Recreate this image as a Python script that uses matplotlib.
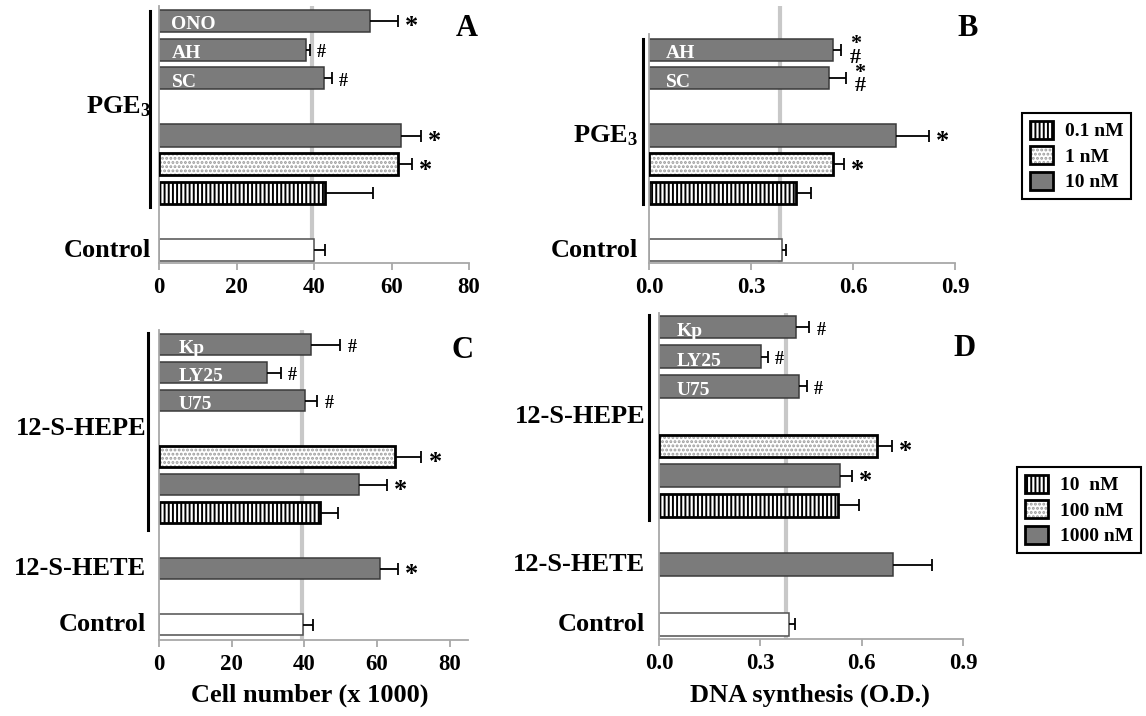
import matplotlib
matplotlib.use("Agg")
import matplotlib.pyplot as plt
from matplotlib.patches import Patch
from matplotlib.legend_handler import HandlerTuple
from matplotlib.transforms import ScaledTranslation

plt.rcParams['font.family'] = 'Liberation Serif'
plt.rcParams['font.weight'] = 'bold'
plt.rcParams['mathtext.fontset'] = 'custom'
plt.rcParams['mathtext.rm'] = 'Liberation Serif:bold'
plt.rcParams['mathtext.it'] = 'Liberation Serif:bold'
plt.rcParams['mathtext.bf'] = 'Liberation Serif:bold'
plt.rcParams['mathtext.default'] = 'rm'
plt.rcParams['hatch.linewidth'] = 1.4

# ---- data (slot = row position from top) ----
a_pos = [0, 1, 2, 4, 5, 6, 8]
a_vals = [54.5, 37.9, 42.6, 62.5, 61.7, 42.9, 40.0]
a_err = [7.2, 1.1, 2.0, 5.1, 3.5, 12.2, 2.9]
a_kind = ['grey', 'grey', 'grey', 'grey', 'dot', 'stripe', 'white']
a_inner = ['ONO', 'AH', 'SC', '', '', '', '']
a_mark = ['*', '#', '#', '*', '*', '', '']

b_pos = [1, 2, 4, 5, 6, 8]
b_vals = [0.541, 0.529, 0.726, 0.541, 0.431, 0.392]
b_err = [0.025, 0.051, 0.097, 0.033, 0.045, 0.012]
b_kind = ['grey', 'grey', 'grey', 'dot', 'stripe', 'white']
b_inner = ['AH', 'SC', '', '', '', '']
b_mark = ['*#', '*#', '*', '*', '', '']

c_pos = [0, 1, 2, 4, 5, 6, 8, 10]
c_vals = [41.9, 29.6, 40.1, 64.8, 54.9, 44.4, 60.9, 39.6]
c_err = [8.0, 3.9, 3.5, 7.4, 7.9, 4.9, 4.9, 2.8]
c_kind = ['grey', 'grey', 'grey', 'dot', 'grey', 'stripe', 'grey', 'white']
c_inner = ['Kp', 'LY25', 'U75', '', '', '', '', '']
c_mark = ['#', '#', '#', '*', '*', '', '*', '']

d_pos = [0, 1, 2, 4, 5, 6, 8, 10]
d_vals = [0.405, 0.302, 0.415, 0.644, 0.537, 0.530, 0.693, 0.386]
d_err = [0.040, 0.021, 0.022, 0.046, 0.035, 0.062, 0.115, 0.016]
d_kind = ['grey', 'grey', 'grey', 'dot', 'grey', 'stripe', 'grey', 'white']
d_inner = ['Kp', 'LY25', 'U75', '', '', '', '', '']
d_mark = ['#', '#', '#', '*', '*', '', '', '']

ref_lines = [39.4, 0.384, 39.2, 0.375]

ab_groups = [('PGE$_3$', 3), ('Control', 8)]
b_groups = [('PGE$_3$', 4), ('Control', 8)]
cd_groups = [('12-S-HEPE', 3), ('12-S-HETE', 8), ('Control', 10)]

leg1_labels = ['0.1 nM', '1 nM', '10 nM']
leg2_labels = ['10  nM', '100 nM', '1000 nM']

W, H = 1146, 716
fig = plt.figure(figsize=(W / 100, H / 100), dpi=100)

GREY = '#7b7b7b'
DOTS = '#9c9c9c'
BAR_H = 0.77


def draw_bar(ax, y, v, kind):
    if kind == 'grey':
        ax.barh(y, v, height=BAR_H, color=GREY, edgecolor='#3a3a3a', linewidth=1.1, zorder=2)
    elif kind == 'white':
        ax.barh(y, v, height=BAR_H, color='white', edgecolor='#505050', linewidth=1.1, zorder=2)
    elif kind == 'dot':
        ax.barh(y, v, height=BAR_H, color='white', edgecolor=DOTS, hatch='....',
                linewidth=0, zorder=2)
        ax.barh(y, v, height=BAR_H, fill=False, edgecolor='black', linewidth=2, zorder=3)
    elif kind == 'stripe':
        ax.barh(y, v, height=BAR_H, color='white', edgecolor='black', hatch='||||',
                linewidth=2, zorder=2)


def panel(rect, xlim, ylim, spine_top, xticks, ticklabels, pos, vals, errs, kinds,
          inner, marks, ref, inner_off):
    ax = fig.add_axes(rect)
    ax.set_xlim(*xlim)
    ax.set_ylim(*ylim)
    ax.axvline(ref, color='#c8c8c8', lw=3, zorder=0.5)
    for y, v, e, k, t, m in zip(pos, vals, errs, kinds, inner, marks):
        draw_bar(ax, y, v, k)
        ax.hlines(y, v, v + e, color='black', lw=1.3, zorder=4)
        ax.plot([v + e], [y], marker='|', markersize=8.5, mew=1.3, color='black', zorder=4)
        if t:
            ax.annotate(t, xy=(0, y + 0.3), xycoords=('axes fraction', 'data'),
                        xytext=(inner_off, 0), textcoords='offset points',
                        ha='left', va='baseline', color='white', fontsize=14)
        if m == '*':
            ax.annotate('*', xy=(v + e, y), xytext=(5, -9), textcoords='offset points',
                        ha='left', va='baseline', fontsize=19)
        elif m == '#':
            ax.annotate('#', xy=(v + e, y), xytext=(5, -5.5), textcoords='offset points',
                        ha='left', va='baseline', fontsize=13)
        elif m == '*#':
            ax.annotate('*\n#', xy=(v + e, y), xytext=(6, -1), textcoords='offset points',
                        ha='left', va='center', multialignment='center',
                        fontsize=16, linespacing=0.55)
    for s in ['top', 'right']:
        ax.spines[s].set_visible(False)
    for s in ['left', 'bottom']:
        ax.spines[s].set_color('#a8a8a8')
        ax.spines[s].set_linewidth(1.3)
    ax.spines['left'].set_bounds(ylim[0], spine_top)
    ax.set_yticks([])
    ax.set_xticks(xticks)
    ax.set_xticklabels(ticklabels)
    ax.tick_params(axis='x', colors='#a8a8a8', labelcolor='black', length=5, width=1.3,
                   labelsize=16.5, pad=5)
    return ax


def side_labels(ax, groups, off_pt):
    for lab, y in groups:
        ax.annotate(lab, xy=(0, y), xycoords=('axes fraction', 'data'),
                    xytext=(off_pt, 0), textcoords='offset points',
                    ha='right', va='center', fontsize=19)


def bracket(ax, x_px, y0, y1):
    tr = ax.get_yaxis_transform() + ScaledTranslation(x_px / 100, 0, fig.dpi_scale_trans)
    ax.plot([0, 0], [y0, y1], color='black', lw=2.2, transform=tr, clip_on=False)


def rect_px(x0, x1, y0, y1):
    return [x0 / W, 1 - y1 / H, (x1 - x0) / W, (y1 - y0) / H]


# Panel A
axA = panel(rect_px(159, 469, 6, 263), (0, 80), (8.45, -0.52), -0.52,
            [0, 20, 40, 60, 80], ['0', '20', '40', '60', '80'],
            a_pos, a_vals, a_err, a_kind, a_inner, a_mark, ref_lines[0], 9)
side_labels(axA, ab_groups, -6)
bracket(axA, -9, -0.35, 6.49)

# Panel B
axB = panel(rect_px(649, 955, 6, 263), (0, 0.9), (8.45, -0.52), 0.45,
            [0, 0.3, 0.6, 0.9], ['0.0', '0.3', '0.6', '0.9'],
            b_pos, b_vals, b_err, b_kind, b_inner, b_mark, ref_lines[1], 12)
side_labels(axB, b_groups, -8)
bracket(axB, -6, 0.63, 6.39)

# Panel C
axC = panel(rect_px(159, 468, 330, 640), (0, 85), (10.55, -0.52), -0.52,
            [0, 20, 40, 60, 80], ['0', '20', '40', '60', '80'],
            c_pos, c_vals, c_err, c_kind, c_inner, c_mark, ref_lines[2], 14)
side_labels(axC, cd_groups, -9)
bracket(axC, -11, -0.41, 6.62)

# Panel D
axD = panel(rect_px(659, 963, 313, 639), (0, 0.9), (10.49, -0.47), -0.47,
            [0, 0.3, 0.6, 0.9], ['0.0', '0.3', '0.6', '0.9'],
            d_pos, d_vals, d_err, d_kind, d_inner, d_mark, ref_lines[3], 13)
side_labels(axD, cd_groups, -10)
bracket(axD, -10, -0.4, 6.49)

# panel letters and axis titles
for letter, x, y in [('A', 467, 28), ('B', 968, 28), ('C', 463, 350), ('D', 965, 348)]:
    fig.text(x / W, 1 - y / H, letter, ha='center', va='center', fontsize=22)
fig.text(310 / W, 1 - 695 / H, 'Cell number (x 1000)', ha='center', va='center', fontsize=19)
fig.text(810 / W, 1 - 695 / H, 'DNA synthesis (O.D.)', ha='center', va='center', fontsize=19)


def handles():
    return [Patch(facecolor='white', edgecolor='black', hatch='||||', linewidth=2),
            (Patch(facecolor='white', edgecolor=DOTS, hatch='....', linewidth=0),
             Patch(fill=False, edgecolor='black', linewidth=2)),
            Patch(facecolor=GREY, edgecolor='black', linewidth=2)]


for labels, x0, y0 in [(leg1_labels, 1022, 113), (leg2_labels, 1017, 467)]:
    leg = fig.legend(handles(), labels, loc='upper left',
                     bbox_to_anchor=(x0 / W, 1 - y0 / H), borderaxespad=0,
                     fontsize=14, fancybox=False, edgecolor='black', framealpha=1,
                     handlelength=1.2, handleheight=1.05, labelspacing=0.3,
                     handletextpad=0.6, borderpad=0.4,
                     handler_map={tuple: HandlerTuple(ndivide=1)})
    leg.get_frame().set_linewidth(1.5)

fig.savefig('out.png', dpi=100)
